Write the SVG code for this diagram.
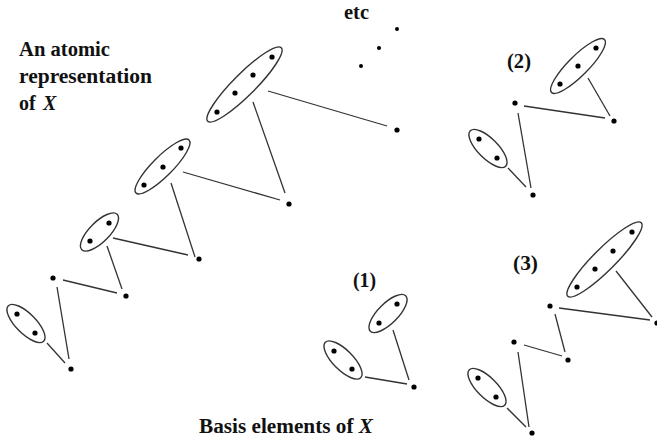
<svg xmlns="http://www.w3.org/2000/svg" width="657" height="447" viewBox="0 0 657 447">
<style>
.t{font-family:"Liberation Serif","Times New Roman",serif;font-weight:bold;font-size:20px;fill:#111}
.e{fill:none;stroke:#333;stroke-width:1.4}
.c line{stroke:#333;stroke-width:1.3}
.d{fill:#000}
.s{fill:#000}
</style>
<rect width="657" height="447" fill="#fff"/>
<g id="labels">
<text class="t" x="19" y="56" textLength="91" lengthAdjust="spacingAndGlyphs">An atomic</text>
<text class="t" x="19" y="83" textLength="133" lengthAdjust="spacingAndGlyphs">representation</text>
<text class="t" x="19" y="110">of <tspan x="43" font-style="italic">X</tspan></text>
<text class="t" x="344" y="19" textLength="25" lengthAdjust="spacingAndGlyphs">etc</text>
<text class="t" x="353" y="287" textLength="23" lengthAdjust="spacingAndGlyphs">(1)</text>
<text class="t" x="507" y="68" textLength="24" lengthAdjust="spacingAndGlyphs">(2)</text>
<text class="t" x="513" y="270" textLength="25" lengthAdjust="spacingAndGlyphs">(3)</text>
<text class="t" x="199" y="433" textLength="174" lengthAdjust="spacingAndGlyphs">Basis elements of <tspan font-style="italic">X</tspan></text>
</g>
<g id="connectors" class="c">
<line x1="268" y1="91" x2="387" y2="126"/>
<line x1="253" y1="102" x2="285" y2="193"/>
<line x1="183" y1="172" x2="280" y2="200"/>
<line x1="171" y1="183" x2="195" y2="257"/>
<line x1="113" y1="238" x2="188" y2="255"/>
<line x1="107" y1="246" x2="122" y2="289"/>
<line x1="63" y1="280" x2="117" y2="293"/>
<line x1="57" y1="287" x2="69" y2="359"/>
<line x1="47" y1="343" x2="65" y2="363"/>
<line x1="588" y1="78" x2="610" y2="116"/>
<line x1="524" y1="106" x2="605" y2="118"/>
<line x1="518" y1="113" x2="531" y2="188"/>
<line x1="508" y1="168" x2="526" y2="187"/>
<line x1="393" y1="330" x2="409" y2="380"/>
<line x1="365" y1="377" x2="407" y2="384"/>
<line x1="616" y1="271" x2="652" y2="317"/>
<line x1="559" y1="308" x2="650" y2="320"/>
<line x1="555" y1="314" x2="565" y2="352"/>
<line x1="524" y1="345" x2="562" y2="356"/>
<line x1="518" y1="352" x2="529" y2="427"/>
<line x1="507" y1="408" x2="526" y2="427"/>
</g>
<g id="atomic">
<g id="a1"><ellipse class="e" cx="244.5" cy="84.5" rx="52" ry="11" transform="rotate(-45 244.5 84.5)"/>
<circle class="d" cx="272" cy="57" r="2.6"/><circle class="d" cx="253" cy="75" r="2.6"/><circle class="d" cx="235" cy="93" r="2.6"/><circle class="d" cx="217" cy="112" r="2.6"/></g>
<g id="a2"><circle class="d" cx="397" cy="130" r="2.6"/></g>
<g id="a3"><circle class="d" cx="289" cy="204" r="2.6"/></g>
<g id="a4"><ellipse class="e" cx="162.5" cy="166.5" rx="37.5" ry="10" transform="rotate(-45 162.5 166.5)"/>
<circle class="d" cx="181" cy="148" r="2.6"/><circle class="d" cx="163" cy="167" r="2.6"/><circle class="d" cx="144" cy="185" r="2.6"/></g>
<g id="a5"><circle class="d" cx="199" cy="259" r="2.6"/></g>
<g id="a6"><ellipse class="e" cx="99.5" cy="232" rx="25" ry="10" transform="rotate(-45 99.5 232)"/>
<circle class="d" cx="109" cy="223" r="2.6"/><circle class="d" cx="90" cy="241" r="2.6"/></g>
<g id="a7"><circle class="d" cx="126" cy="296" r="2.6"/></g>
<g id="a8"><circle class="d" cx="53" cy="278" r="2.6"/></g>
<g id="a9"><circle class="d" cx="71" cy="369" r="2.6"/></g>
<g id="a10"><ellipse class="e" cx="26" cy="323.5" rx="25" ry="10" transform="rotate(45 26 323.5)"/>
<circle class="d" cx="17" cy="314" r="2.6"/><circle class="d" cx="35" cy="333" r="2.6"/></g>
<g id="etc-dots"><circle class="s" cx="397" cy="29" r="2"/><circle class="s" cx="379" cy="48" r="2"/><circle class="s" cx="361" cy="66" r="2"/></g>
</g>
<g id="basis2">
<g id="b2a"><ellipse class="e" cx="578" cy="66" rx="37.5" ry="10" transform="rotate(-45 578 66)"/>
<circle class="d" cx="596" cy="48" r="2.6"/><circle class="d" cx="578" cy="66" r="2.6"/><circle class="d" cx="560" cy="84" r="2.6"/></g>
<g id="b2b"><circle class="d" cx="614" cy="121" r="2.6"/></g>
<g id="b2c"><circle class="d" cx="515" cy="103" r="2.6"/></g>
<g id="b2d"><circle class="d" cx="533" cy="195" r="2.6"/></g>
<g id="b2e"><ellipse class="e" cx="488" cy="148.5" rx="25" ry="10" transform="rotate(45 488 148.5)"/>
<circle class="d" cx="479" cy="139" r="2.6"/><circle class="d" cx="497" cy="158" r="2.6"/></g>
</g>
<g id="basis1">
<g id="b1a"><ellipse class="e" cx="388" cy="313.5" rx="25" ry="10" transform="rotate(-45 388 313.5)"/>
<circle class="d" cx="397" cy="304" r="2.6"/><circle class="d" cx="379" cy="323" r="2.6"/></g>
<g id="b1b"><circle class="d" cx="414" cy="387" r="2.6"/></g>
<g id="b1c"><ellipse class="e" cx="343" cy="360" rx="25" ry="10" transform="rotate(45 343 360)"/>
<circle class="d" cx="334" cy="351" r="2.6"/><circle class="d" cx="352" cy="369" r="2.6"/></g>
</g>
<g id="basis3">
<g id="b3a"><ellipse class="e" cx="604.5" cy="259.5" rx="52" ry="11" transform="rotate(-45 604.5 259.5)"/>
<circle class="d" cx="632" cy="232" r="2.6"/><circle class="d" cx="613" cy="251" r="2.6"/><circle class="d" cx="595" cy="269" r="2.6"/><circle class="d" cx="577" cy="287" r="2.6"/></g>
<g id="b3b"><circle class="d" cx="657" cy="323" r="2.6"/></g>
<g id="b3c"><circle class="d" cx="550" cy="306" r="2.6"/></g>
<g id="b3d"><circle class="d" cx="568" cy="360" r="2.6"/></g>
<g id="b3e"><circle class="d" cx="514" cy="342" r="2.6"/></g>
<g id="b3f"><circle class="d" cx="532" cy="433" r="2.6"/></g>
<g id="b3g"><ellipse class="e" cx="487" cy="387.5" rx="25" ry="10" transform="rotate(45 487 387.5)"/>
<circle class="d" cx="478" cy="378" r="2.6"/><circle class="d" cx="496" cy="397" r="2.6"/></g>
</g>
</svg>
